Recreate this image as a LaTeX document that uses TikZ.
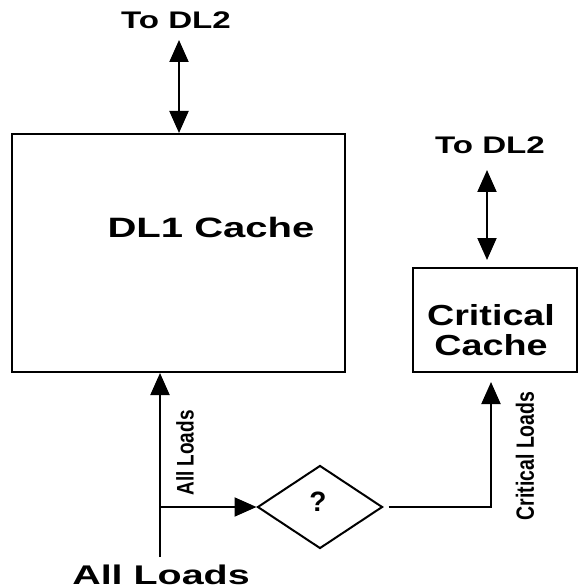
\documentclass[tikz,border=0pt]{standalone}
\usepackage{fontspec}
\setmainfont{Liberation Sans}
\usetikzlibrary{arrows.meta,shapes.geometric}
\newcommand\stretchtext[3]{{\fontsize{#1}{#1}\selectfont\bfseries\scalebox{#2}[1]{#3}}}
\begin{document}
\begin{tikzpicture}[x=0.5pt,y=-0.5pt,
  line width=1pt,
  tip/.tip={Triangle[length=11pt,width=9.5pt]},
  arr/.style={-tip},
  dblarr/.style={tip-tip},
  box/.style={draw,rectangle,inner sep=0pt},
  lbl/.style={inner sep=0pt},
  decide/.style={draw,diamond,inner sep=0pt,minimum width=62.5pt,minimum height=41.5pt}]
\useasboundingbox (0,0) rectangle (579,588);

% storage blocks
\node[box,minimum width=166.5pt,minimum height=119pt] (dl1) at (178.5,253) {};
\node[lbl] (dl1txt) at (211,227) {\stretchtext{14}{1.43}{DL1 Cache}};
\node[box,minimum width=82pt,minimum height=52pt] (crit) at (495,320) {};
\node[lbl,align=center,font=\fontsize{14.5}{15}\selectfont\bfseries] (crittxt) at (491,330)
  {\scalebox{1.3}[1]{Critical}\\\scalebox{1.3}[1]{Cache}};

% links to the second level
\node[lbl] (dl2a) at (176,20) {\stretchtext{12}{1.38}{To DL2}};
\node[lbl] (dl2b) at (490,145) {\stretchtext{12}{1.38}{To DL2}};
\coordinate (up1) at (179,40);
\coordinate (up2) at (487,170);
\coordinate (dn2) at (487,260);
\draw[dblarr] (up1) -- (up1 |- dl1.north);
\draw[dblarr] (up2) -- (dn2);

% load stream and selector
\node[lbl] (src) at (161,575) {\stretchtext{13.5}{1.46}{All Loads}};
\coordinate (srcend) at (160,557);
\coordinate (fork) at (160,507);
\node[decide] (sel) at (320,507) {};
\node[lbl] (q) at (318,502) {\stretchtext{14}{1}{?}};
\coordinate (critin) at (491,382);

\draw[arr] (srcend) -- (srcend |- dl1.south);
\draw[arr] (fork) -- (sel.west);
\draw[arr] ([xshift=2.5pt]sel.east) -| (critin);

% edge labels
\node[lbl,rotate=90] (alllbl) at (185,453) {\stretchtext{12}{0.79}{All Loads}};
\node[lbl,rotate=90] (critlbl) at (525,456) {\stretchtext{12.5}{0.78}{Critical Loads}};
\end{tikzpicture}
\end{document}
